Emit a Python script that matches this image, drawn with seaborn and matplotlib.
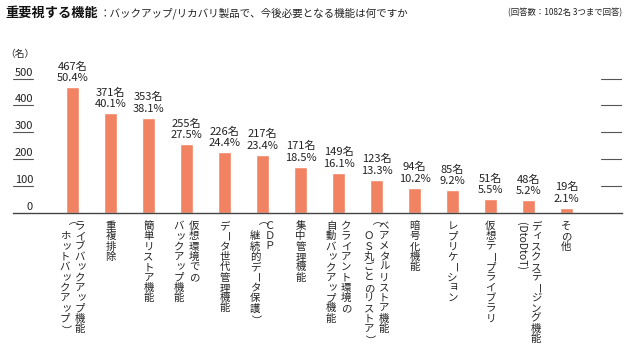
import matplotlib
matplotlib.use("Agg")
import matplotlib.pyplot as plt
import matplotlib.transforms as mtransforms
import pandas as pd
import seaborn as sns

# data
categories = [
    ["ライブバックアップ機能", "（ホットバックアップ）"],
    ["重複排除"],
    ["簡単リストア機能"],
    ["仮想環境での", "バックアップ機能"],
    ["データ世代管理機能"],
    ["ＣＤＰ", "（継続的データ保護）"],
    ["集中管理機能"],
    ["クライアント環境の", "自動バックアップ機能"],
    ["ベアメタルリストア機能", "（ＯＳ丸ごとのリストア）"],
    ["暗号化機能"],
    ["レプリケーション"],
    ["仮想テープライブラリ"],
    ["ディスクステージング機能", "(DtoDtoT)"],
    ["その他"],
]
counts = [467, 371, 353, 255, 226, 217, 171, 149, 123, 94, 85, 51, 48, 19]
pcts = [50.4, 40.1, 38.1, 27.5, 24.4, 23.4, 18.5, 16.1, 13.3, 10.2, 9.2, 5.5, 5.2, 2.1]
yticks = [0, 100, 200, 300, 400, 500]

sns.set_theme(style="white")
plt.rcParams["font.family"] = ["Noto Sans CJK JP", "DejaVu Sans"]
txt = "#222222"
bar_color = "#F18262"

W, H = 630, 353
fig = plt.figure(figsize=(W / 100, H / 100), dpi=100)
# axes: left 13px, right 622px, bottom at y=213px, top at y=43px
ax = fig.add_axes([13 / W, (H - 213) / H, (622 - 13) / W, 170 / H])

df = pd.DataFrame({"idx": list(range(len(counts))), "count": counts})
sns.barplot(data=df, x="idx", y="count", color=bar_color, width=0.35,
            saturation=1, ax=ax, native_scale=True)

ax.set_xlim(-1.566, 14.46)
ax.set_ylim(0, 170 / 0.269)
for s in ["left", "right", "top"]:
    ax.spines[s].set_visible(False)
ax.spines["bottom"].set_color("#444444")
ax.spines["bottom"].set_linewidth(1.0)
ax.set_xticks([])
ax.set_yticks([])
ax.set_xlabel("")
ax.set_ylabel("")

# y-axis labels with underlines at left, short marks at right
blend = mtransforms.blended_transform_factory(ax.transAxes, ax.transData)
left_end = (33 - 13) / (622 - 13)
right_start = (601 - 13) / (622 - 13)
for v in yticks:
    if v > 0:
        ax.plot([0, left_end], [v, v], transform=blend, color="#555555", lw=0.8)
        ax.plot([right_start, 1], [v, v], transform=blend, color="#555555", lw=0.8)
    ax.annotate(str(v), xy=(left_end, v), xycoords=blend, xytext=(0, 1),
                textcoords="offset pixels", ha="right", va="bottom",
                fontsize=8, color=txt)
ax.annotate("（名）", xy=(left_end, 500), xycoords=blend, xytext=(2, 20),
            textcoords="offset pixels", ha="right", va="bottom",
            fontsize=7, color=txt)

# value labels
for i, (c, p) in enumerate(zip(counts, pcts)):
    ax.annotate(f"{c}名\n{p}%", xy=(i, c), xytext=(0, 4),
                textcoords="offset pixels", ha="center", va="bottom",
                fontsize=8, color=txt, linespacing=1.2)

# vertical category labels (columns read right to left)
rotate_chars = set("ー（）")
small_chars = set("ッャュョィァ")
pitch = 10.3
col_gap = 15
for i, cols in enumerate(categories):
    n = len(cols)
    for k, col in enumerate(cols):
        dx = (n - 1) / 2 * col_gap - k * col_gap
        if col.startswith("("):
            ax.annotate(col, xy=(i, 0), xytext=(dx, -9),
                        textcoords="offset pixels", ha="center", va="top",
                        rotation=-90, fontsize=7.5, color=txt)
            continue
        for j, ch in enumerate(col):
            ox, oy = dx, -13 - j * pitch
            rot = -90 if ch in rotate_chars else 0
            if ch in small_chars:
                ox += 1.5
                oy += 1.5
            ax.annotate(ch, xy=(i, 0), xytext=(ox, oy),
                        textcoords="offset pixels", ha="center", va="center",
                        rotation=rot, fontsize=7.5, color=txt)

# title
fig.text(5 / W, 1 - 13 / H, "重要視する機能", fontsize=9.5, fontweight="bold",
         color="#111111", ha="left", va="center")
fig.text(99 / W, 1 - 13 / H, "：バックアップ/リカバリ製品で、今後必要となる機能は何ですか",
         fontsize=7.6, color=txt, ha="left", va="center")
fig.text(622 / W, 1 - 13 / H, "(回答数：1082名 3つまで回答)", fontsize=6,
         color=txt, ha="right", va="center")

fig.savefig("out.png", dpi=100)
